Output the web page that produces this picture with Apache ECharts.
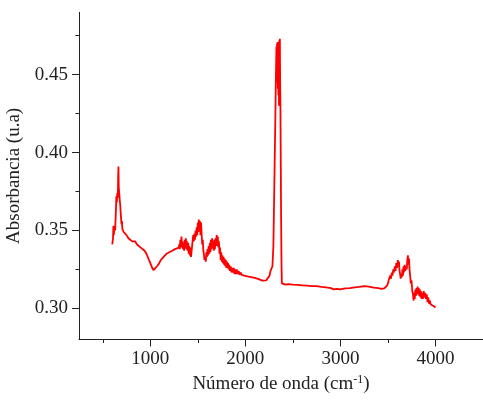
<!DOCTYPE html>
<html>
<head>
<meta charset="utf-8">
<script src="https://cdn.jsdelivr.net/npm/echarts@6/dist/echarts.min.js"></script>
<style>
  html, body { margin: 0; padding: 0; background: #fff; }
  .charts { width: 483px; height: 404px; }
</style>
</head>
<body>
<div class="charts"></div>
<script>
// espectro FTIR
var wavenumber = [
  600, 608, 612, 616, 622, 630, 638, 643, 648, 653, 658, 662, 665, 668, 672, 678, 684, 690, 697, 702,
  706, 712, 720, 735, 750, 770, 790, 810, 825, 840, 860, 880, 900, 920, 940, 960, 980, 1000, 1020, 1035,
  1050, 1070, 1090, 1110, 1140, 1170, 1200, 1230, 1260, 1280, 1300,
  1305, 1310, 1316, 1322, 1328, 1333, 1338, 1344, 1350, 1356, 1362, 1368, 1374, 1380, 1386, 1392, 1398, 1404, 1410, 1416,
  1422, 1428, 1434, 1440, 1446, 1452, 1458, 1464, 1470, 1476, 1482, 1488, 1494, 1500, 1506, 1510, 1516, 1522, 1528, 1534,
  1540, 1546, 1552, 1558, 1564, 1570, 1578, 1584, 1590, 1596, 1602, 1608, 1614, 1620, 1626, 1632, 1638, 1644, 1650, 1656,
  1662, 1668, 1674, 1680, 1686, 1692, 1698, 1704, 1710, 1716, 1722, 1728, 1734, 1740, 1746, 1752, 1758, 1764, 1770, 1776,
  1782, 1788, 1794, 1800, 1806, 1812, 1818, 1824, 1830, 1838, 1846, 1854, 1862, 1870, 1878, 1886, 1894, 1902, 1910, 1920,
  1930, 1940, 1950, 1962, 1975, 1990, 2005, 2020, 2040, 2060, 2080, 2100, 2120, 2140, 2160, 2180, 2200, 2220, 2240, 2255,
  2265, 2275, 2285, 2295, 2305, 2315, 2322, 2327, 2330, 2333, 2336, 2339, 2342, 2345, 2348, 2351, 2354, 2357, 2360, 2363,
  2366, 2369, 2372, 2376, 2380, 2384, 2390, 2400, 2420, 2450, 2500, 2550, 2600, 2650, 2700, 2750, 2800, 2850, 2900, 2930,
  2960, 3000, 3050, 3100, 3150, 3200, 3250, 3300, 3350, 3400, 3430, 3460, 3480,
  3490, 3500, 3508, 3516, 3524, 3532, 3540, 3548, 3556, 3564, 3572, 3580, 3588, 3596, 3604, 3610, 3616, 3622, 3628, 3634,
  3640, 3646, 3652, 3658, 3664, 3670, 3676, 3682, 3690, 3698, 3704, 3710, 3716, 3722, 3728, 3734, 3740, 3748, 3756, 3764,
  3770, 3776, 3782, 3788, 3794, 3800, 3806, 3812, 3818, 3824, 3830, 3836, 3842, 3848, 3854, 3860, 3868, 3876, 3884, 3892,
  3900, 3908, 3916, 3924, 3932, 3940, 3950, 3960, 3970, 3980, 3990, 4000
];
var absorbance = [
  0.341, 0.345, 0.353, 0.347, 0.352, 0.350, 0.362, 0.372, 0.368, 0.374, 0.371, 0.384, 0.391, 0.378, 0.375, 0.370, 0.366, 0.360, 0.354, 0.356,
  0.351, 0.350, 0.349, 0.348, 0.347, 0.345, 0.344, 0.343, 0.3425, 0.343, 0.341, 0.340, 0.339, 0.338, 0.337, 0.335, 0.332, 0.329, 0.326, 0.3245,
  0.325, 0.327, 0.3285, 0.331, 0.333, 0.335, 0.336, 0.337, 0.338, 0.3385, 0.339,
  0.341, 0.338, 0.344, 0.339, 0.346, 0.340, 0.343, 0.338, 0.342, 0.337, 0.344, 0.339, 0.345, 0.338, 0.343, 0.337, 0.342, 0.335, 0.340, 0.334,
  0.339, 0.333, 0.332, 0.340, 0.344, 0.347, 0.343, 0.348, 0.344, 0.350, 0.346, 0.352, 0.347, 0.355, 0.349, 0.357, 0.350, 0.356, 0.347, 0.355,
  0.348, 0.341, 0.344, 0.337, 0.335, 0.331, 0.333, 0.330, 0.336, 0.333, 0.338, 0.334, 0.340, 0.335, 0.342, 0.336, 0.344, 0.338, 0.345, 0.339,
  0.343, 0.337, 0.344, 0.338, 0.345, 0.340, 0.347, 0.340, 0.346, 0.339, 0.343, 0.335, 0.339, 0.331, 0.336, 0.330, 0.334, 0.329, 0.333, 0.328,
  0.332, 0.327, 0.331, 0.326, 0.330, 0.326, 0.329, 0.325, 0.328, 0.324, 0.327, 0.323, 0.326, 0.323, 0.326, 0.322, 0.325, 0.322, 0.325, 0.322,
  0.324, 0.3215, 0.323, 0.3215, 0.3225, 0.321, 0.322, 0.3205, 0.321, 0.320, 0.3205, 0.3195, 0.319, 0.3188, 0.318, 0.3178, 0.3175, 0.318, 0.319, 0.321,
  0.324, 0.325, 0.327, 0.340, 0.380, 0.420, 0.450, 0.468, 0.445, 0.470, 0.448, 0.471, 0.441, 0.469, 0.437, 0.470, 0.430, 0.472, 0.438, 0.473,
  0.445, 0.430, 0.400, 0.360, 0.330, 0.316, 0.3155, 0.315, 0.3152, 0.3155, 0.3152, 0.315, 0.3148, 0.3146, 0.3143, 0.3142, 0.3138, 0.3135, 0.313, 0.3122,
  0.3125, 0.3121, 0.3128, 0.313, 0.3135, 0.3138, 0.3143, 0.314, 0.3133, 0.313, 0.3125, 0.3128, 0.3138,
  0.3145, 0.316, 0.318, 0.317, 0.321, 0.319, 0.323, 0.321, 0.325, 0.323, 0.327, 0.324, 0.329, 0.326, 0.331, 0.327, 0.330, 0.324, 0.322, 0.319,
  0.322, 0.320, 0.325, 0.321, 0.327, 0.323, 0.328, 0.324, 0.327, 0.325, 0.331, 0.334, 0.328, 0.332, 0.324, 0.321, 0.316, 0.318, 0.311, 0.309,
  0.305, 0.310, 0.306, 0.312, 0.308, 0.313, 0.309, 0.314, 0.309, 0.313, 0.308, 0.312, 0.307, 0.311, 0.306, 0.310, 0.306, 0.311, 0.307, 0.310,
  0.306, 0.309, 0.304, 0.307, 0.303, 0.305, 0.3025, 0.3035, 0.302, 0.3015, 0.301, 0.3005
];
var xMajorTicks = [1000, 2000, 3000, 4000];
var xMinorTicks = [500, 1500, 2500, 3500, 4500];
var yMajorTicks = [0.30, 0.35, 0.40, 0.45];
var yMinorTicks = [0.325, 0.375, 0.425, 0.475];

var spectrum = wavenumber.map(function (x, i) { return [x, absorbance[i]]; });

var charts = document.querySelector('.charts');
var myChart = echarts.init(charts, null, {renderer: 'canvas'});

var font = 'Liberation Serif';
var axisColor = '#222';

var option = {
    animation: false,
    grid: {left: 79, right: 0, top: 12.3, bottom: 64.5, outerBoundsMode: 'none', containLabel: false},
    xAxis: [{
        type: 'value', min: 250, max: 4500,
        name: '{a|Número de onda (cm}{sup|-1}{a|)}',
        nameLocation: 'middle', nameGap: 34,
        nameTextStyle: {
            rich: {
                a: {fontFamily: font, fontSize: 19, color: axisColor, lineHeight: 22},
                sup: {fontFamily: font, fontSize: 12, color: axisColor, lineHeight: 12, verticalAlign: 'top'}
            }
        },
        axisLine: {show: true, lineStyle: {color: axisColor, width: 1}},
        axisTick: {show: true, inside: false, length: 7, customValues: xMajorTicks, lineStyle: {color: axisColor}},
        axisLabel: {
            customValues: xMajorTicks, fontFamily: font, fontSize: 19, color: axisColor, margin: 10,
            formatter: function (v) { return String(v); }
        },
        splitLine: {show: false}
    }, {
        type: 'value', min: 250, max: 4500, position: 'bottom',
        axisLine: {show: false},
        axisTick: {show: true, inside: false, length: 3.5, customValues: xMinorTicks, lineStyle: {color: axisColor}},
        axisLabel: {show: false},
        splitLine: {show: false}
    }],
    yAxis: [{
        type: 'value', min: 0.28, max: 0.49,
        name: 'Absorbancia (u.a)',
        nameLocation: 'middle', nameGap: 46,
        nameTextStyle: {fontFamily: font, fontSize: 19, color: axisColor},
        axisLine: {show: true, lineStyle: {color: axisColor, width: 1}},
        axisTick: {show: true, inside: false, length: 7, customValues: yMajorTicks, lineStyle: {color: axisColor}},
        axisLabel: {
            customValues: yMajorTicks, fontFamily: font, fontSize: 19, color: axisColor, margin: 11,
            formatter: function (v) { return v.toFixed(2); }
        },
        splitLine: {show: false}
    }, {
        type: 'value', min: 0.28, max: 0.49, position: 'left',
        axisLine: {show: false},
        axisTick: {show: true, inside: false, length: 3.5, customValues: yMinorTicks, lineStyle: {color: axisColor}},
        axisLabel: {show: false},
        splitLine: {show: false}
    }],
    series: [{
        type: 'line',
        xAxisIndex: 0, yAxisIndex: 0,
        data: spectrum,
        showSymbol: false,
        symbol: 'none',
        lineStyle: {color: '#ff0000', width: 1.8},
        z: 5
    }]
};

myChart.setOption(option);
</script>
</body>
</html>
